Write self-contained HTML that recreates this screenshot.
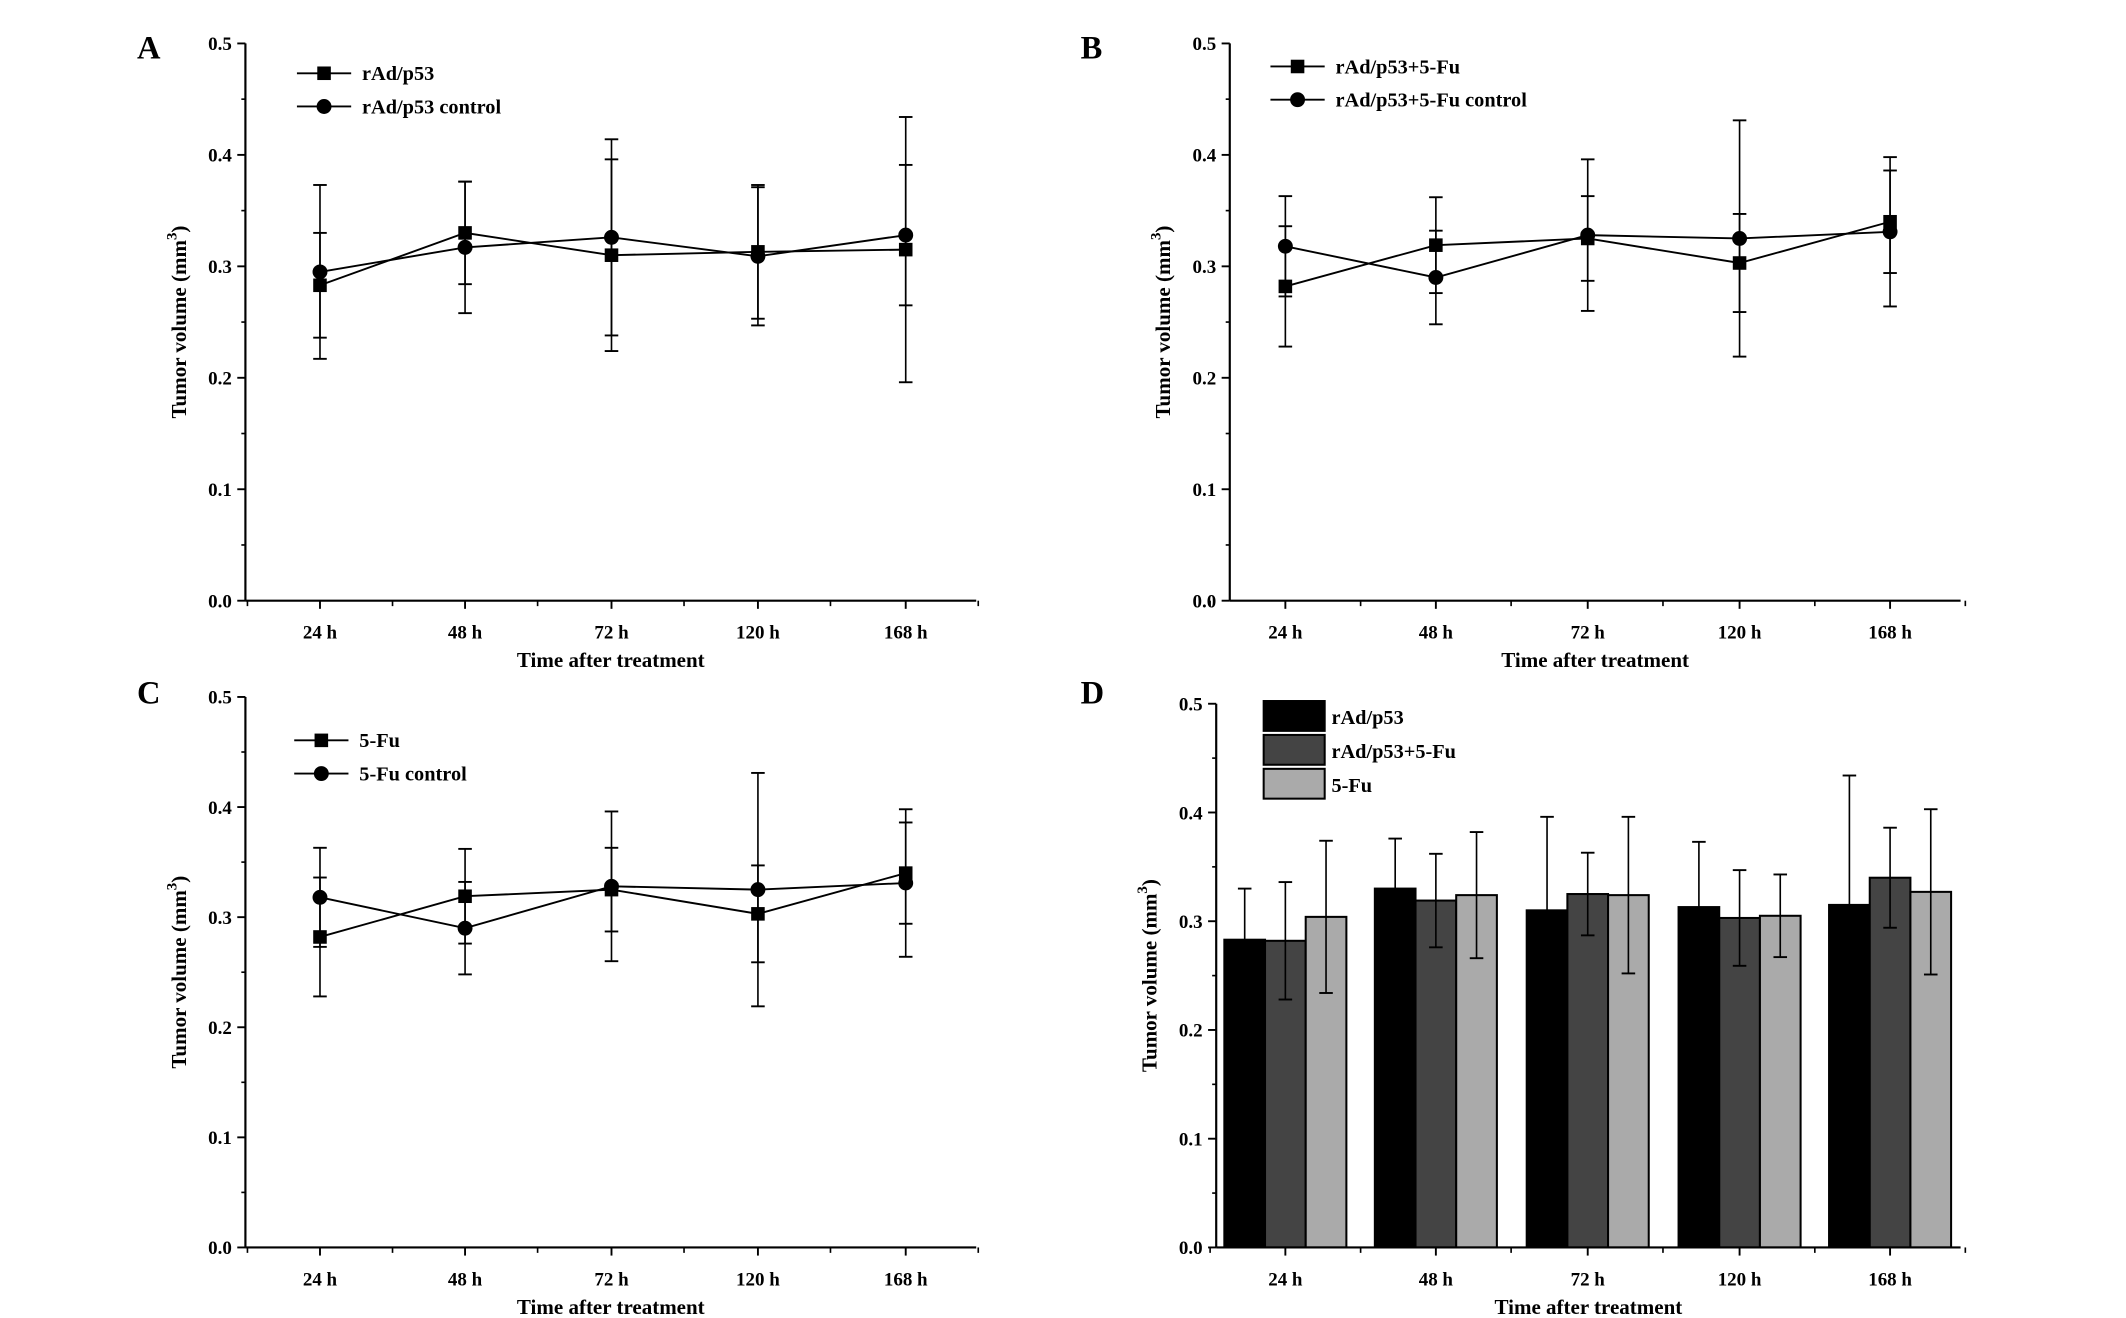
<!DOCTYPE html>
<html><head><meta charset="utf-8"><style>
html,body{margin:0;padding:0;background:#fff}
svg{display:block}
text{font-family:"Liberation Serif",serif;font-weight:bold;fill:#000}
</style></head><body>
<svg id="fig" width="2126" height="1318" viewBox="0 0 1568 972"></svg>
<script>
const categories=["24 h","48 h","72 h","120 h","168 h"];
const yTicks=[0,0.1,0.2,0.3,0.4,0.5];
const yTickLabels=["0.0","0.1","0.2","0.3","0.4","0.5"];
// Panel A
const aTreat=[0.283,0.330,0.310,0.313,0.315];
const aTreatErr=[0.047,0.046,0.086,0.060,0.119];
const aCtrl=[0.295,0.317,0.326,0.309,0.328];
const aCtrlErr=[0.078,0.059,0.088,0.062,0.063];
// Panel B
const bTreat=[0.282,0.319,0.325,0.303,0.340];
const bTreatErr=[0.054,0.043,0.038,0.044,0.046];
const bCtrl=[0.318,0.290,0.328,0.325,0.331];
const bCtrlErr=[0.045,0.042,0.068,0.106,0.067];
// Panel C
const cTreat=[0.282,0.319,0.325,0.303,0.340];
const cTreatErr=[0.054,0.043,0.038,0.044,0.046];
const cCtrl=[0.318,0.290,0.328,0.325,0.331];
const cCtrlErr=[0.045,0.042,0.068,0.106,0.067];
// Panel D
const dP53=[0.283,0.330,0.310,0.313,0.315];
const dP53Err=[0.047,0.046,0.086,0.060,0.119];
const dCombo=[0.282,0.319,0.325,0.303,0.340];
const dComboErr=[0.054,0.043,0.038,0.044,0.046];
const dFu=[0.304,0.324,0.324,0.305,0.327];
const dFuErr=[0.070,0.058,0.072,0.038,0.076];

const NS="http://www.w3.org/2000/svg";
const svg=document.getElementById('fig');
function el(tag,attrs,parent,txt){const e=document.createElementNS(NS,tag);for(const k in attrs)e.setAttribute(k,attrs[k]);if(txt!==undefined)e.textContent=txt;(parent||svg).appendChild(e);return e;}

function axes(P,g){
  const y=v=>P.y0-(v/0.5)*(P.y0-P.y1);
  const x=i=>P.cx[i];
  el('line',{x1:P.ax,y1:P.y1,x2:P.ax,y2:P.y0,stroke:'#000','stroke-width':1.6},g);
  el('line',{x1:P.ax,y1:P.y0,x2:P.xe,y2:P.y0,stroke:'#000','stroke-width':1.6},g);
  yTicks.forEach((t,i)=>{
    const l=el('line',{x1:P.ax-6,y1:y(t),x2:P.ax,y2:y(t),stroke:'#000','stroke-width':1.4},g);
    
    
    if(i<yTicks.length-1)el('line',{x1:P.ax-3,y1:y(t+0.05),x2:P.ax,y2:y(t+0.05),stroke:'#000','stroke-width':1.2},g);
    const tx=el('text',{x:P.ax-10,y:y(t)+5,'text-anchor':'end','font-size':14},g,yTickLabels[i]);
    
    
  });
  const step=P.cx[1]-P.cx[0];
  categories.forEach((c,i)=>{
    el('line',{x1:x(i),y1:P.y0,x2:x(i),y2:P.y0+6,stroke:'#000','stroke-width':1.4},g);
    el('line',{x1:x(i)+step/2,y1:P.y0,x2:x(i)+step/2,y2:P.y0+4,stroke:'#000','stroke-width':1.2},g);
    const tx=el('text',{x:x(i),y:P.y0+28,'text-anchor':'middle','font-size':14},g,c);
    
    
  });
  el('line',{x1:P.cx[0]-step/2,y1:P.y0,x2:P.cx[0]-step/2,y2:P.y0+4,stroke:'#000','stroke-width':1.2},g);
  const xt=el('text',{x:(P.ax+P.xe)/2,y:P.y0+49,'text-anchor':'middle','font-size':15.5},g,'Time after treatment');
  
  
  const yt=el('text',{x:0,y:0,'text-anchor':'middle','font-size':15.5,transform:`translate(${P.ax-44},${(P.y0+P.y1)/2}) rotate(-90)`},g);
  
  
  yt.appendChild(document.createTextNode('Tumor volume (mm'));
  el('tspan',{dy:-7,'font-size':11},yt,'3');
  el('tspan',{dy:7},yt,')');
  const lb=el('text',{x:P.lx,y:P.ly,'font-size':24},g,P.label);
  
  
  return {x,y};
}
function errbar(g,x,y,v,e,cw){
  el('line',{x1:x,y1:y(v-e),x2:x,y2:y(v+e),stroke:'#000','stroke-width':1.2},g);
  el('line',{x1:x-cw,y1:y(v+e),x2:x+cw,y2:y(v+e),stroke:'#000','stroke-width':1.4},g);
  el('line',{x1:x-cw,y1:y(v-e),x2:x+cw,y2:y(v-e),stroke:'#000','stroke-width':1.4},g);
}
function marker(g,kind,x,y){
  if(kind==='sq')return el('rect',{x:x-5,y:y-5,width:10,height:10,fill:'#000'},g);
  return el('circle',{cx:x,cy:y,r:5.5,fill:'#000'},g);
}
function linePanel(P,treat,tErr,ctrl,cErr,names,legX,legY){
  const g=el('g',{});
  
  
  const {x,y}=axes(P,g);
  [[treat,tErr,'sq'],[ctrl,cErr,'ci']].forEach(([vals,errs,k])=>{
    vals.forEach((v,i)=>errbar(g,x(i),y,v,errs[i],5));
    el('polyline',{points:vals.map((v,i)=>x(i)+','+y(v)).join(' '),fill:'none',stroke:'#000','stroke-width':1.4},g);
    vals.forEach((v,i)=>{const m=marker(g,k,x(i),y(v));
      
      });
  });
  names.forEach((n,j)=>{
    const ly=legY+j*24.5;
    el('line',{x1:legX,y1:ly,x2:legX+40,y2:ly,stroke:'#000','stroke-width':1.4},g);
    marker(g,j?'ci':'sq',legX+20,ly);
    const t=el('text',{x:legX+48,y:ly+5,'font-size':15},g,n);
    
    
  });
}
const cxL=[236,343,451,559,668], cxR=[948,1059,1171,1283,1394];
linePanel({ax:181,xe:720,y0:443,y1:32,cx:cxL,label:'A',lx:101,ly:43},aTreat,aTreatErr,aCtrl,aCtrlErr,['rAd/p53','rAd/p53 control'],219,54);
linePanel({ax:907,xe:1446,y0:443,y1:32,cx:cxR,label:'B',lx:797,ly:43},bTreat,bTreatErr,bCtrl,bCtrlErr,['rAd/p53+5-Fu','rAd/p53+5-Fu control'],937,49);
linePanel({ax:181,xe:720,y0:920,y1:514,cx:cxL,label:'C',lx:101,ly:519},cTreat,cTreatErr,cCtrl,cCtrlErr,['5-Fu','5-Fu control'],217,546);

// Panel D
(function(){
  const P={ax:897,xe:1446,y0:920,y1:519,cx:cxR,label:'D',lx:797,ly:519};
  const g=el('g',{});
  
  
  const series=[[dP53,dP53Err,'#000'],[dCombo,dComboErr,'#444'],[dFu,dFuErr,'#aaa']];
  const bw=30;
  const y=v=>P.y0-(v/0.5)*(P.y0-P.y1);
  series.forEach(([vals,errs,col],s)=>{
    vals.forEach((v,i)=>{
      const xc=P.cx[i]+(s-1)*bw;
      const r=el('rect',{x:xc-bw/2,y:y(v),width:bw,height:P.y0-y(v),fill:col,stroke:'#000','stroke-width':1.5},g);
      
      
      errbar(g,xc,y,v,errs[i],5);
    });
  });
  axes(P,g);
  ['rAd/p53','rAd/p53+5-Fu','5-Fu'].forEach((n,j)=>{
    const ly=517+j*25;
    el('rect',{x:932,y:ly,width:45,height:22,fill:series[j][2],stroke:'#000','stroke-width':1.5},g);
    const t=el('text',{x:982,y:ly+17,'font-size':15},g,n);
    
    
  });
})();
</script>
</body></html>
